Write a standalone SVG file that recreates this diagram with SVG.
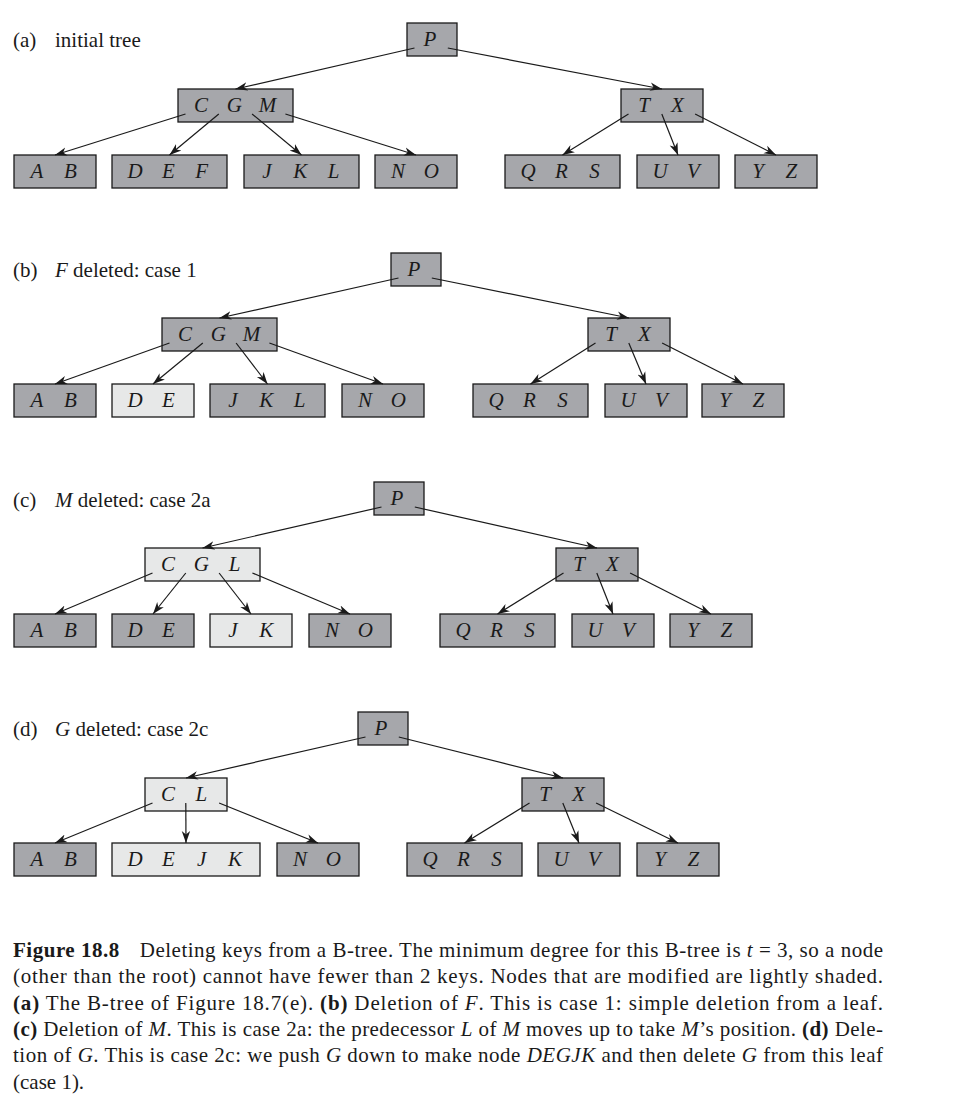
<svg xmlns="http://www.w3.org/2000/svg" width="956" height="1109" viewBox="0 0 956 1109">
<style>
.bg{fill:#ffffff}
.d{fill:#a6a7ab;stroke:#1a1a1a;stroke-width:1.3}
.l{fill:#e7e8e8;stroke:#1a1a1a;stroke-width:1.3}
.k{font-family:"Liberation Serif",serif;font-style:italic;font-size:21px;fill:#1a1a1a;text-anchor:middle}
.t{font-family:"Liberation Serif",serif;font-size:21px;fill:#1a1a1a}
.c{font-family:"Liberation Serif",serif;font-size:21px;fill:#1a1a1a}
.i{font-style:italic}
.b{font-weight:bold}
.e{stroke:#1a1a1a;stroke-width:1.2;fill:none;marker-end:url(#arr)}
</style>
<defs>
<marker id="arr" markerUnits="userSpaceOnUse" markerWidth="14" markerHeight="10" refX="12" refY="5" orient="auto" viewBox="0 0 14 10">
<path d="M0,0.8 L12,5 L0,9.2 L3.5,5 z" fill="#1a1a1a"/>
</marker>
</defs>
<rect class="bg" x="0" y="0" width="956" height="1109"/>

<g id="titles">
<text class="t" x="13" y="46.5">(a)</text><text class="t" x="55" y="46.5">initial tree</text>
<text class="t" x="13" y="276.5">(b)</text><text class="t" x="55" y="276.5"><tspan class="i">F</tspan> deleted: case 1</text>
<text class="t" x="13" y="506.5">(c)</text><text class="t" x="55" y="506.5"><tspan class="i">M</tspan> deleted: case 2a</text>
<text class="t" x="13" y="736">(d)</text><text class="t" x="55" y="736"><tspan class="i">G</tspan> deleted: case 2c</text>
</g>

<!-- panel a -->
<g id="a_P"><rect class="d" x="407" y="23" width="50" height="33"/><text class="k" x="430" y="46">P</text></g>
<g id="a_CGM"><rect class="d" x="178" y="89" width="115" height="33"/><text class="k" y="112"><tspan x="201">C</tspan><tspan x="234.3">G</tspan><tspan x="267.6">M</tspan></text></g>
<g id="a_TX"><rect class="d" x="621" y="89" width="82" height="33"/><text class="k" y="112"><tspan x="644">T</tspan><tspan x="677.3">X</tspan></text></g>
<g id="a_AB"><rect class="d" x="14" y="155" width="82" height="33"/><text class="k" y="178"><tspan x="37">A</tspan><tspan x="70.3">B</tspan></text></g>
<g id="a_DEF"><rect class="d" x="112" y="155" width="115" height="33"/><text class="k" y="178"><tspan x="135">D</tspan><tspan x="168.3">E</tspan><tspan x="201.6">F</tspan></text></g>
<g id="a_JKL"><rect class="d" x="244" y="155" width="115" height="33"/><text class="k" y="178"><tspan x="267">J</tspan><tspan x="300.3">K</tspan><tspan x="333.6">L</tspan></text></g>
<g id="a_NO"><rect class="d" x="375" y="155" width="82" height="33"/><text class="k" y="178"><tspan x="398">N</tspan><tspan x="431.3">O</tspan></text></g>
<g id="a_QRS"><rect class="d" x="505" y="155" width="115" height="33"/><text class="k" y="178"><tspan x="528">Q</tspan><tspan x="561.3">R</tspan><tspan x="594.6">S</tspan></text></g>
<g id="a_UV"><rect class="d" x="637" y="155" width="82" height="33"/><text class="k" y="178"><tspan x="660">U</tspan><tspan x="693.3">V</tspan></text></g>
<g id="a_YZ"><rect class="d" x="735" y="155" width="82" height="33"/><text class="k" y="178"><tspan x="758">Y</tspan><tspan x="791.3">Z</tspan></text></g>

<!-- panel b -->
<g id="b_P"><rect class="d" x="391" y="253" width="50" height="33"/><text class="k" x="414" y="276">P</text></g>
<g id="b_CGM"><rect class="d" x="162" y="318" width="115" height="33"/><text class="k" y="341"><tspan x="185">C</tspan><tspan x="218.3">G</tspan><tspan x="251.6">M</tspan></text></g>
<g id="b_TX"><rect class="d" x="588" y="318" width="82" height="33"/><text class="k" y="341"><tspan x="611">T</tspan><tspan x="644.3">X</tspan></text></g>
<g id="b_AB"><rect class="d" x="14" y="384" width="82" height="33"/><text class="k" y="407"><tspan x="37">A</tspan><tspan x="70.3">B</tspan></text></g>
<g id="b_DE"><rect class="l" x="112" y="384" width="82" height="33"/><text class="k" y="407"><tspan x="135">D</tspan><tspan x="168.3">E</tspan></text></g>
<g id="b_JKL"><rect class="d" x="210" y="384" width="115" height="33"/><text class="k" y="407"><tspan x="233">J</tspan><tspan x="266.3">K</tspan><tspan x="299.6">L</tspan></text></g>
<g id="b_NO"><rect class="d" x="342" y="384" width="82" height="33"/><text class="k" y="407"><tspan x="365">N</tspan><tspan x="398.3">O</tspan></text></g>
<g id="b_QRS"><rect class="d" x="473" y="384" width="115" height="33"/><text class="k" y="407"><tspan x="496">Q</tspan><tspan x="529.3">R</tspan><tspan x="562.6">S</tspan></text></g>
<g id="b_UV"><rect class="d" x="605" y="384" width="82" height="33"/><text class="k" y="407"><tspan x="628">U</tspan><tspan x="661.3">V</tspan></text></g>
<g id="b_YZ"><rect class="d" x="702" y="384" width="82" height="33"/><text class="k" y="407"><tspan x="725">Y</tspan><tspan x="758.3">Z</tspan></text></g>

<!-- panel c -->
<g id="c_P"><rect class="d" x="374" y="482" width="50" height="33"/><text class="k" x="397" y="505">P</text></g>
<g id="c_CGL"><rect class="l" x="145" y="548" width="115" height="33"/><text class="k" y="571"><tspan x="168">C</tspan><tspan x="201.3">G</tspan><tspan x="234.6">L</tspan></text></g>
<g id="c_TX"><rect class="d" x="556" y="548" width="82" height="33"/><text class="k" y="571"><tspan x="579">T</tspan><tspan x="612.3">X</tspan></text></g>
<g id="c_AB"><rect class="d" x="14" y="614" width="82" height="33"/><text class="k" y="637"><tspan x="37">A</tspan><tspan x="70.3">B</tspan></text></g>
<g id="c_DE"><rect class="d" x="112" y="614" width="82" height="33"/><text class="k" y="637"><tspan x="135">D</tspan><tspan x="168.3">E</tspan></text></g>
<g id="c_JK"><rect class="l" x="210" y="614" width="82" height="33"/><text class="k" y="637"><tspan x="233">J</tspan><tspan x="266.3">K</tspan></text></g>
<g id="c_NO"><rect class="d" x="309" y="614" width="82" height="33"/><text class="k" y="637"><tspan x="332">N</tspan><tspan x="365.3">O</tspan></text></g>
<g id="c_QRS"><rect class="d" x="440" y="614" width="115" height="33"/><text class="k" y="637"><tspan x="463">Q</tspan><tspan x="496.3">R</tspan><tspan x="529.6">S</tspan></text></g>
<g id="c_UV"><rect class="d" x="572" y="614" width="82" height="33"/><text class="k" y="637"><tspan x="595">U</tspan><tspan x="628.3">V</tspan></text></g>
<g id="c_YZ"><rect class="d" x="670" y="614" width="82" height="33"/><text class="k" y="637"><tspan x="693">Y</tspan><tspan x="726.3">Z</tspan></text></g>

<!-- panel d -->
<g id="d_P"><rect class="d" x="358" y="712" width="50" height="33"/><text class="k" x="381" y="735">P</text></g>
<g id="d_CL"><rect class="l" x="145" y="778" width="82" height="33"/><text class="k" y="801"><tspan x="168">C</tspan><tspan x="201.3">L</tspan></text></g>
<g id="d_TX"><rect class="d" x="522" y="778" width="82" height="33"/><text class="k" y="801"><tspan x="545">T</tspan><tspan x="578.3">X</tspan></text></g>
<g id="d_AB"><rect class="d" x="14" y="843" width="82" height="33"/><text class="k" y="866"><tspan x="37">A</tspan><tspan x="70.3">B</tspan></text></g>
<g id="d_DEJK"><rect class="l" x="112" y="843" width="148" height="33"/><text class="k" y="866"><tspan x="135">D</tspan><tspan x="168.3">E</tspan><tspan x="201.6">J</tspan><tspan x="234.9">K</tspan></text></g>
<g id="d_NO"><rect class="d" x="277" y="843" width="82" height="33"/><text class="k" y="866"><tspan x="300">N</tspan><tspan x="333.3">O</tspan></text></g>
<g id="d_QRS"><rect class="d" x="407" y="843" width="115" height="33"/><text class="k" y="866"><tspan x="430">Q</tspan><tspan x="463.3">R</tspan><tspan x="496.6">S</tspan></text></g>
<g id="d_UV"><rect class="d" x="538" y="843" width="82" height="33"/><text class="k" y="866"><tspan x="561">U</tspan><tspan x="594.3">V</tspan></text></g>
<g id="d_YZ"><rect class="d" x="637" y="843" width="82" height="33"/><text class="k" y="866"><tspan x="660">Y</tspan><tspan x="693.3">Z</tspan></text></g>

<g id="connectors">
<line class="e" x1="414.5" y1="48" x2="235.5" y2="89"/>
<line class="e" x1="447.8" y1="48" x2="662" y2="89"/>
<line class="e" x1="185.5" y1="114" x2="55" y2="155"/>
<line class="e" x1="218.8" y1="114" x2="169.5" y2="155"/>
<line class="e" x1="252.1" y1="114" x2="301.5" y2="155"/>
<line class="e" x1="285.4" y1="114" x2="416" y2="155"/>
<line class="e" x1="628.5" y1="114" x2="562.5" y2="155"/>
<line class="e" x1="661.8" y1="114" x2="678" y2="155"/>
<line class="e" x1="695.1" y1="114" x2="776" y2="155"/>

<line class="e" x1="398.5" y1="278" x2="219.5" y2="318"/>
<line class="e" x1="431.8" y1="278" x2="629" y2="318"/>
<line class="e" x1="169.5" y1="343" x2="55" y2="384"/>
<line class="e" x1="202.8" y1="343" x2="153" y2="384"/>
<line class="e" x1="236.1" y1="343" x2="267.5" y2="384"/>
<line class="e" x1="269.4" y1="343" x2="383" y2="384"/>
<line class="e" x1="595.5" y1="343" x2="530.5" y2="384"/>
<line class="e" x1="628.8" y1="343" x2="646" y2="384"/>
<line class="e" x1="662.1" y1="343" x2="743" y2="384"/>

<line class="e" x1="381.5" y1="507" x2="202.5" y2="548"/>
<line class="e" x1="414.8" y1="507" x2="597" y2="548"/>
<line class="e" x1="152.5" y1="573" x2="55" y2="614"/>
<line class="e" x1="185.8" y1="573" x2="153" y2="614"/>
<line class="e" x1="219.1" y1="573" x2="251" y2="614"/>
<line class="e" x1="252.4" y1="573" x2="350" y2="614"/>
<line class="e" x1="563.5" y1="573" x2="497.5" y2="614"/>
<line class="e" x1="596.8" y1="573" x2="613" y2="614"/>
<line class="e" x1="630.1" y1="573" x2="711" y2="614"/>

<line class="e" x1="365.5" y1="737" x2="186" y2="778"/>
<line class="e" x1="398.8" y1="737" x2="563" y2="778"/>
<line class="e" x1="152.5" y1="803" x2="55" y2="843"/>
<line class="e" x1="185.8" y1="803" x2="186" y2="843"/>
<line class="e" x1="219.1" y1="803" x2="318" y2="843"/>
<line class="e" x1="529.5" y1="803" x2="464.5" y2="843"/>
<line class="e" x1="562.8" y1="803" x2="579" y2="843"/>
<line class="e" x1="596.1" y1="803" x2="678" y2="843"/>
</g>

<g id="caption">
<text class="c" x="13" y="957" textLength="870" lengthAdjust="spacing"><tspan class="b">Figure 18.8</tspan><tspan dx="20">Deleting keys from a B-tree. The minimum degree for this B-tree is </tspan><tspan class="i">t</tspan> = 3, so a node</text>
<text class="c" x="13" y="983.3" textLength="870" lengthAdjust="spacing">(other than the root) cannot have fewer than 2 keys.  Nodes that are modified are lightly shaded.</text>
<text class="c" x="13" y="1009.7" textLength="870" lengthAdjust="spacing"><tspan class="b">(a)</tspan> The B-tree of Figure 18.7(e).  <tspan class="b">(b)</tspan> Deletion of <tspan class="i">F</tspan>.  This is case 1:  simple deletion from a leaf.</text>
<text class="c" x="13" y="1036" textLength="870" lengthAdjust="spacing"><tspan class="b">(c)</tspan> Deletion of <tspan class="i">M</tspan>. This is case 2a: the predecessor <tspan class="i">L</tspan> of <tspan class="i">M</tspan> moves up to take <tspan class="i">M</tspan>’s position. <tspan class="b">(d)</tspan> Dele-</text>
<text class="c" x="13" y="1062.3" textLength="870" lengthAdjust="spacing">tion of <tspan class="i">G</tspan>. This is case 2c: we push <tspan class="i">G</tspan> down to make node <tspan class="i">DEGJK</tspan> and then delete <tspan class="i">G</tspan> from this leaf</text>
<text class="c" x="13" y="1088.5">(case 1).</text>
</g>
</svg>
